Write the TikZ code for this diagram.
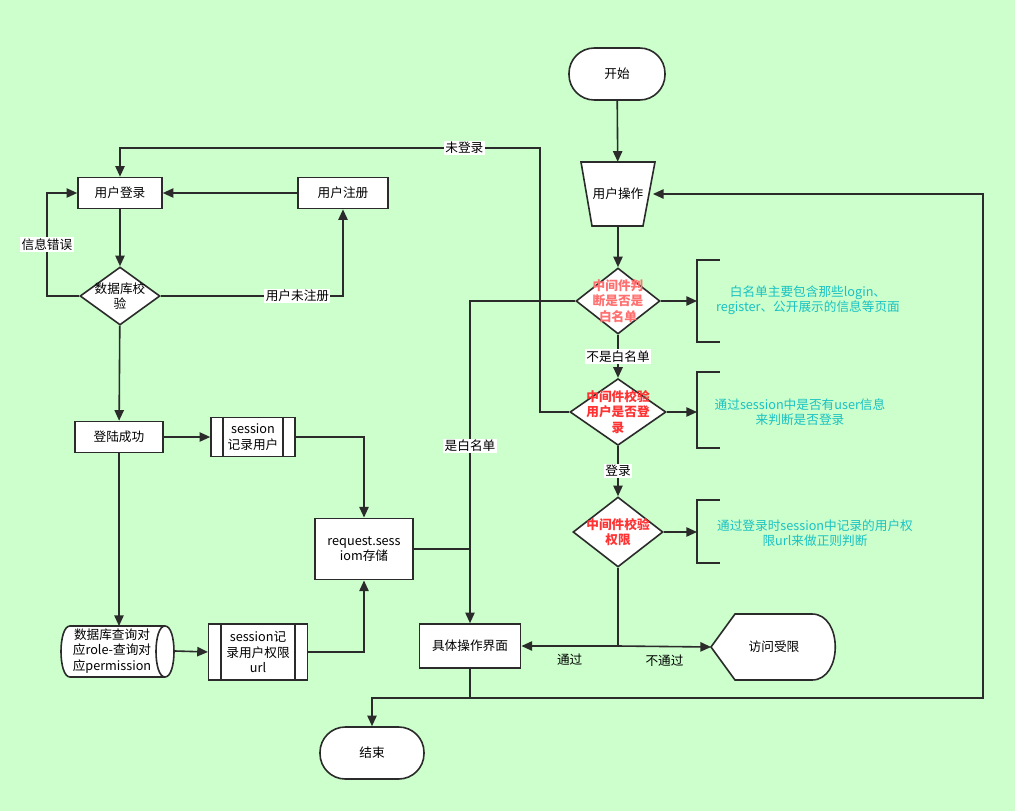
\documentclass[tikz,border=0pt]{standalone}
\usepackage{fontspec}
\setmainfont{Noto Sans CJK SC}
\usetikzlibrary{shapes.geometric,arrows.meta,calc}
\definecolor{bg}{HTML}{CCFFCC}
\definecolor{ln}{HTML}{2B2B2B}
\definecolor{cy}{HTML}{19C2C2}
\definecolor{rd}{HTML}{FF3333}
\begin{document}
\begin{tikzpicture}[x=0.75pt,y=-0.75pt,
  every node/.style={font=\fontsize{9.5pt}{11.5pt}\selectfont, align=center, text=black},
  box/.style={draw=ln, line width=1.2pt, fill=white, inner sep=1pt},
  pill/.style={box, rounded corners=19pt},
  dia/.style={draw=ln, line width=1.2pt, fill=white, diamond, inner sep=0pt},
  lab/.style={fill=white, inner sep=1pt},
  note/.style={text=cy},
  rtext/.style={text=rd, font=\fontsize{9.5pt}{11.5pt}\selectfont\bfseries},
  conn/.style={draw=ln, line width=1.2pt},
  arr/.style={conn, -{Triangle[length=8pt,width=7pt]}}]
\fill[bg] (0,0) rectangle (1015,811);
\useasboundingbox (0,0) rectangle (1015,811);

% right column
\node[pill, minimum width=72pt, minimum height=39pt] (start) at (617,74) {开始};
\draw[conn, fill=white] (581,162) -- (655,162) -- (643,226) -- (592,226) -- cycle;
\node[minimum width=52pt, minimum height=48pt, inner sep=0pt] (op) at (618,194) {用户操作};
\node[dia, minimum width=63pt, minimum height=49.5pt] (d1) at (618,301) {};
\node[rtext, text=rd!70!white] at (d1) {中间件判\\断是否是\\白名单};
\node[dia, minimum width=72pt, minimum height=50pt] (d2) at (618,412) {};
\node[rtext] at (d2) {中间件校验\\用户是否登\\录};
\node[dia, minimum width=67.5pt, minimum height=52.5pt] (d3) at (618,532) {};
\node[rtext] at (d3) {中间件校验\\权限};

\coordinate (b1) at (697,301);
\coordinate (b2) at (697,412);
\coordinate (b3) at (697,532);
\draw[conn] (720,260) -- (697,260) -- (697,342) -- (720,342);
\draw[conn] (720,372) -- (697,372) -- (697,448) -- (720,448);
\draw[conn] (720,500) -- (697,500) -- (697,563) -- (720,563);
\node[note] (n1) at (808,300) {白名单主要包含那些login、\\register、公开展示的信息等页面};
\node[note] (n2) at (800,412) {通过session中是否有user信息\\来判断是否登录};
\node[note] (n3) at (815,533) {通过登录时session中记录的用户权\\限url来做正则判断};

\draw[conn, fill=white] (711,647) -- (735,614) -- (812,614) .. controls (843,614) and (843,680) .. (812,680) -- (735,680) -- cycle;
\node[inner sep=0pt, minimum width=94pt, minimum height=49pt] (lim) at (774,647) {访问受限};

% left part
\node[box, minimum width=63pt, minimum height=23.25pt] (login) at (120,193) {用户登录};
\node[box, minimum width=67.5pt, minimum height=23.25pt] (reg) at (343,193) {用户注册};
\node[dia, minimum width=60pt, minimum height=43.5pt] (db) at (120,296) {};
\node at (db) {数据库校\\验};
\node[box, minimum width=66pt, minimum height=23.25pt] (succ) at (119,437) {登陆成功};
\node[box, minimum width=63pt, minimum height=29pt] (s1) at (253,437) {session\\记录用户};
\draw[conn] ($(s1.north west)+(13,0)$) -- ($(s1.south west)+(13,0)$);
\draw[conn] ($(s1.north east)+(-13,0)$) -- ($(s1.south east)+(-13,0)$);
\node[box, minimum width=73.5pt, minimum height=46pt] (req) at (364,549) {request.sess\\iom存储};
% cylinder drawn directly
\draw[conn, fill=white] (70,626) -- (165,626) .. controls (177,626) and (177,677) .. (165,677) -- (70,677) .. controls (58,677) and (58,626) .. (70,626) -- cycle;
\draw[conn] (165,626) .. controls (153,626) and (153,677) .. (165,677);
\node[inner sep=0pt, minimum width=70pt, minimum height=38pt] (cyl) at (112,651) {数据库查询对\\应role-查询对\\应permission};
\coordinate (cyle) at (175,651);
\node[box, minimum width=74pt, minimum height=42pt, text width=50pt] (s2) at (258,652) {session记\\录用户权限\\url};
\draw[conn] ($(s2.north west)+(13,0)$) -- ($(s2.south west)+(13,0)$);
\draw[conn] ($(s2.north east)+(-13,0)$) -- ($(s2.south east)+(-13,0)$);
\node[box, minimum width=76pt, minimum height=33pt] (ops) at (470,646) {具体操作界面};
\node[pill, minimum width=78pt, minimum height=39pt] (end) at (372,753) {结束};

% connectors
\draw[arr] (start) -- (op);
\draw[arr] (op) -- (d1);
\draw[arr] (d1) -- node[lab]{不是白名单} (d2);
\draw[arr] (d2) -- node[lab]{登录} (d3);
\draw[arr] (d1.east) -- (b1);
\draw[arr] (d2.east) -- (b2);
\draw[arr] (d3.east) -- (b3);
\coordinate (j3) at (618,646);
\draw[arr] (d3.south) -- (j3) -- node[below=2pt]{通过} (ops.east);
\draw[arr] (j3) -- node[below=2pt]{不通过} (lim.west);
\draw[arr] (d1.west) -- (470,301) -- node[lab, pos=0.45]{是白名单} (ops.north);
\draw[arr] (d2.west) -- (540,412) -- (540,148) -- node[lab, pos=0.18]{未登录} (120,148) -- (login.north);
\draw[arr] (login) -- (db);
\draw[arr] (db.west) -- (47,296) -- node[lab]{信息错误} (47,193) -- (login.west);
\draw[arr] (db.east) -- node[lab, pos=0.75]{用户未注册} (343,296) -- (reg.south);
\draw[arr] (reg) -- (login);
\draw[arr] (db) -- (succ);
\draw[arr] (succ) -- (119,626);
\draw[arr] (succ) -- (s1);
\draw[arr] (s1.east) -- (364,437) -- (req.north);
\draw[arr] (cyle) -- (s2.west);
\draw[arr] (s2.east) -- (364,652) -- (req.south);
\draw[conn] (req.east) -- (470,549);
\draw[arr] (ops.south) -- (470,698) -- (372,698) -- (end.north);
\draw[arr] (470,698) -- (983,698) -- (983,194) -- (op.east);
\end{tikzpicture}
\end{document}
